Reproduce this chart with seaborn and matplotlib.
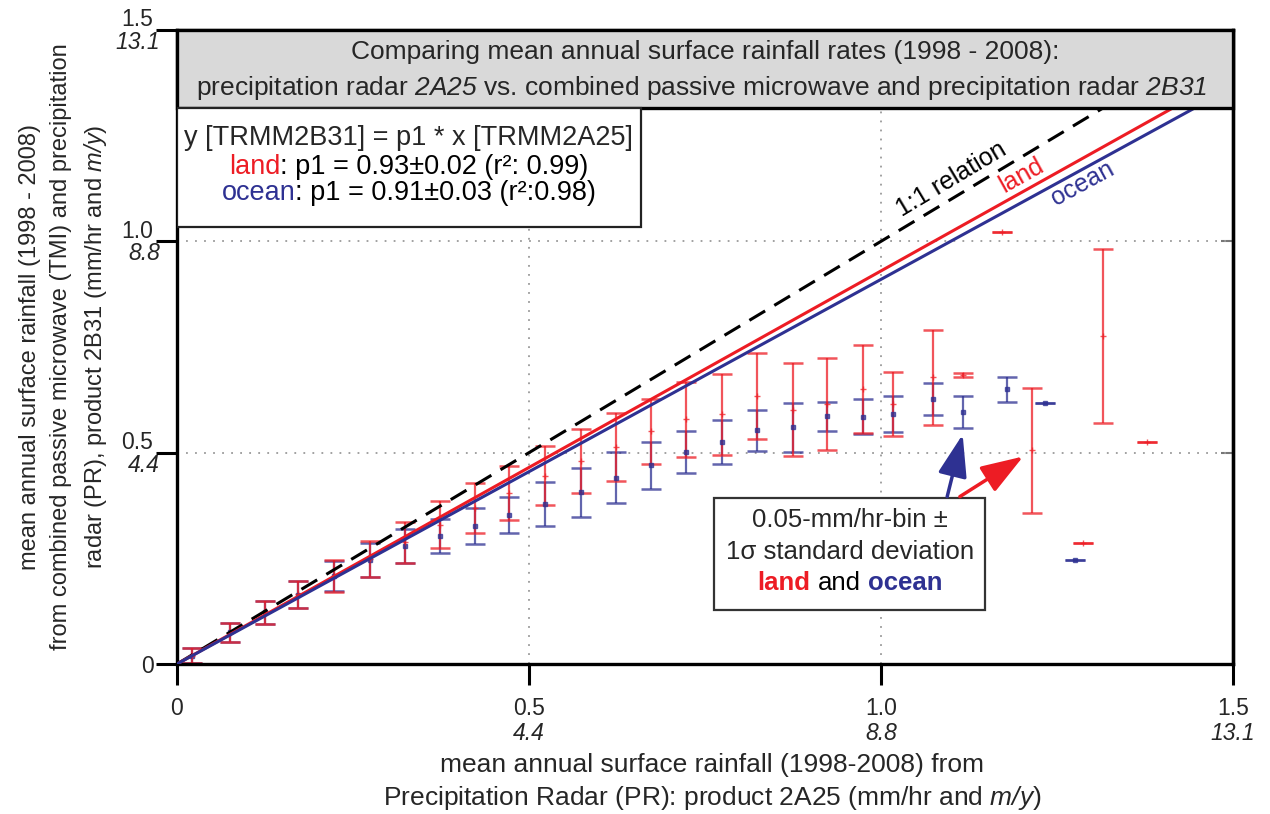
import numpy as np
import pandas as pd
import seaborn as sns
import matplotlib.pyplot as plt
from matplotlib import font_manager
from matplotlib.patches import Rectangle
from matplotlib.transforms import ScaledTranslation

# binned means (0.05 mm/hr bins) and 1-sigma spread
land_x = [0.021, 0.075, 0.125, 0.172, 0.223, 0.274, 0.324, 0.374, 0.423, 0.472,
          0.523, 0.574, 0.624, 0.673, 0.723, 0.774, 0.824, 0.875, 0.923, 0.974,
          1.017, 1.074, 1.116, 1.172, 1.214, 1.287, 1.315, 1.378]
land_mean = [0.020, 0.074, 0.122, 0.165, 0.208, 0.249, 0.288, 0.330, 0.369, 0.405,
             0.445, 0.481, 0.514, 0.551, 0.579, 0.591, 0.634, 0.602, 0.616, 0.651,
             0.615, 0.678, 0.684, 1.021, 0.506, 0.287, 0.777, 0.526]
land_sd = [0.018, 0.022, 0.027, 0.032, 0.037, 0.042, 0.048, 0.055, 0.059, 0.064,
           0.070, 0.076, 0.080, 0.077, 0.089, 0.096, 0.101, 0.109, 0.109, 0.104,
           0.075, 0.113, 0.004, 0.0, 0.148, 0.0, 0.206, 0.0]

ocean_x = [0.021, 0.075, 0.125, 0.172, 0.223, 0.274, 0.324, 0.374, 0.423, 0.472,
           0.523, 0.574, 0.624, 0.673, 0.723, 0.774, 0.824, 0.875, 0.923, 0.974,
           1.017, 1.074, 1.116, 1.179, 1.233, 1.276]
ocean_mean = [0.020, 0.075, 0.122, 0.164, 0.208, 0.247, 0.280, 0.303, 0.327, 0.353,
              0.378, 0.406, 0.441, 0.470, 0.502, 0.525, 0.553, 0.560, 0.586, 0.585,
              0.591, 0.627, 0.597, 0.650, 0.618, 0.246]
ocean_sd = [0.018, 0.022, 0.027, 0.032, 0.036, 0.040, 0.040, 0.040, 0.043, 0.043,
            0.052, 0.058, 0.060, 0.056, 0.050, 0.053, 0.049, 0.058, 0.035, 0.042,
            0.042, 0.039, 0.038, 0.030, 0.0, 0.0]

# regression slopes
slope_land = 0.93
slope_ocean = 0.91

ticks = [0, 0.5, 1.0, 1.5]
tick_labels = ['0', '0.5', '1.0', '1.5']
sub_labels = ['', '4.4', '8.8', '13.1']   # m/y

RED = '#ed1c24'
BLUE = '#2e3192'

sns.set_theme(style='white')
plt.rcParams['font.family'] = ['Liberation Sans', 'DejaVu Sans']

names = {f.name for f in font_manager.fontManager.ttflist}
NARROW = 'Liberation Sans Narrow' if 'Liberation Sans Narrow' in names else 'Liberation Sans'
# \mathsf is used for italic runs inside a label (\mathit keeps digits upright)
plt.rcParams['mathtext.fontset'] = 'custom'
plt.rcParams['mathtext.rm'] = NARROW
plt.rcParams['mathtext.sf'] = NARROW + ':italic'

fig = plt.figure(figsize=(12.7, 8.14), dpi=100)
ax = fig.add_axes([0.13937, 0.18428, 0.83150, 0.77887])


def parts_line(x, y, parts, size, family, gap=0.0):
    # put several differently styled pieces of text on one centred line
    r = fig.canvas.get_renderer()
    texts = [ax.text(0, 0, s, transform=ax.transAxes, fontsize=size, family=family,
                     va='center', ha='left', zorder=8, **kw) for s, kw in parts]
    widths = [t.get_window_extent(r).width for t in texts]
    sp = gap * size * 100 / 72
    total = sum(widths) + sp * (len(texts) - 1)
    px, py = ax.transAxes.transform((x, y))
    cur = px - total / 2
    inv = ax.transAxes.inverted()
    for t, w in zip(texts, widths):
        t.set_position(inv.transform((cur, py)))
        cur += w + sp


# error bars: ocean under land
ax.errorbar(ocean_x, ocean_mean, yerr=ocean_sd, fmt='s', ms=3, color=BLUE, ecolor=BLUE,
            elinewidth=1.6, capsize=7, capthick=1.8, alpha=0.75, zorder=2)
ax.errorbar(land_x, land_mean, yerr=land_sd, fmt='+', ms=4, color=RED, ecolor=RED,
            elinewidth=1.6, capsize=7, capthick=1.8, alpha=0.75, zorder=2)

# fitted lines and 1:1 line
fit_x = np.array([0.0, 1.5])
sns.lineplot(x=fit_x, y=fit_x, ax=ax, color='black', lw=2.2, linestyle=(0, (6, 3.5)), zorder=3)
sns.lineplot(x=fit_x, y=slope_land * fit_x, ax=ax, color=RED, lw=2.2, zorder=3)
sns.lineplot(x=fit_x, y=slope_ocean * fit_x, ax=ax, color=BLUE, lw=2.2, zorder=3)

ax.text(1.100, 1.146, '1:1 relation', rotation=30.9, ha='center', va='center',
        fontsize=18, family=NARROW, color='black', zorder=4)
ax.text(1.200, 1.156, 'land', rotation=29.1, ha='center', va='center',
        fontsize=18, family=NARROW, color=RED, zorder=4)
ax.text(1.287, 1.136, 'ocean', rotation=28.6, ha='center', va='center',
        fontsize=18, family=NARROW, color=BLUE, zorder=4)

ax.set_xlim(0, 1.5)
ax.set_ylim(0, 1.5)
ax.set_xticks(ticks)
ax.set_xticklabels(tick_labels)
ax.set_yticks(ticks)
ax.set_yticklabels(tick_labels)
ax.tick_params(axis='both', direction='out', length=15, width=2.2, labelsize=16.5,
               color='black', bottom=True, left=True)
ax.tick_params(axis='x', pad=9)
ax.tick_params(axis='y', pad=2)
ax.grid(True, linestyle=(0, (1, 4)), color='#9a9a9a', lw=1.3)
for s in ax.spines.values():
    s.set_linewidth(2.4)
    s.set_color('black')

# lift the y tick numbers so the italic m/y value fits under them
for lab, s in zip(ax.get_yticklabels(), sub_labels):
    if s:
        lab.set_transform(lab.get_transform() + ScaledTranslation(0, 9 / 72, fig.dpi_scale_trans))

sec = ax.secondary_yaxis('right')
sec.set_yticks([0.5, 1.0])
sec.set_yticklabels(['', ''])
sec.tick_params(direction='in', length=9, width=1.5, color='#777777')
sec.spines['right'].set_linewidth(2.4)

# italic m/y tick labels
for v, s in zip(ticks, sub_labels):
    if s:
        ax.annotate(s, xy=(v, 0), xycoords=('data', 'axes fraction'), xytext=(0, -50),
                    textcoords='offset points', ha='center', va='center',
                    fontsize=16.5, style='italic', annotation_clip=False)
        ax.annotate(s, xy=(0, v), xycoords=('axes fraction', 'data'), xytext=(-12.3, -9),
                    textcoords='offset points', ha='right', va='center',
                    fontsize=16.5, style='italic', annotation_clip=False)

# title box
ax.add_patch(Rectangle((0, 0.877), 1, 0.123, transform=ax.transAxes, fc='#d9d9d9',
                       ec='black', lw=2.4, zorder=5, clip_on=False))
ax.text(0.5, 0.9653, 'Comparing mean annual surface rainfall rates (1998 - 2008):',
        transform=ax.transAxes, ha='center', va='center', fontsize=19, family=NARROW, zorder=6)
ax.text(0.497, 0.9085, r'precipitation radar $\mathsf{2A25}$ vs. combined passive microwave '
        r'and precipitation radar $\mathsf{2B31}$',
        transform=ax.transAxes, ha='center', va='center', fontsize=19, family=NARROW, zorder=6)

# regression box
ax.add_patch(Rectangle((0, 0.689), 0.439, 0.188, transform=ax.transAxes, fc='white',
                       ec='#222222', lw=1.6, zorder=5))
ax.text(0.2195, 0.830, 'y [TRMM2B31] = p1 * x [TRMM2A25]', transform=ax.transAxes,
        ha='center', va='center', fontsize=19.5, family=NARROW, zorder=6)
parts_line(0.2195, 0.784, [('land', dict(color=RED)),
                           (': p1 = 0.93±0.02 (r²: 0.99)', dict(color='black'))], 19.5, NARROW)
parts_line(0.2195, 0.743, [('ocean', dict(color=BLUE)),
                           (': p1 = 0.91±0.03 (r²:0.98)', dict(color='black'))], 19.5, NARROW)

# bin legend box with arrows
ax.add_patch(Rectangle((0.5085, 0.0852), 0.2565, 0.1766, transform=ax.transAxes,
                       fc='white', ec='#333333', lw=1.6, zorder=6))
ax.text(0.637, 0.227, '0.05-mm/hr-bin ±', transform=ax.transAxes, ha='center',
        va='center', fontsize=18.5, zorder=8)
ax.text(0.637, 0.177, '1σ standard deviation', transform=ax.transAxes, ha='center',
        va='center', fontsize=18.5, zorder=8)
parts_line(0.637, 0.128, [('land', dict(color=RED, weight='bold')),
                          ('and', dict(color='black')),
                          ('ocean', dict(color=BLUE, weight='bold'))], 18.5, 'Liberation Sans',
           gap=0.28)
ax.annotate('', xy=(1.116, 0.543), xytext=(1.094, 0.396),
            arrowprops=dict(arrowstyle='-|>,head_length=1.3,head_width=0.45', mutation_scale=20,
                            lw=2.5, color=BLUE, shrinkA=0, shrinkB=0), zorder=7)
ax.annotate('', xy=(1.202, 0.491), xytext=(1.112, 0.396),
            arrowprops=dict(arrowstyle='-|>,head_length=1.3,head_width=0.45', mutation_scale=20,
                            lw=2.5, color=RED, shrinkA=0, shrinkB=0), zorder=7)

# axis labels
fig.text(0.0504, 0.574, 'mean annual surface rainfall (1998 - 2008)\n'
         'from combined passive microwave (TMI) and precipitation\n'
         r'radar (PR), product 2B31 (mm/hr and $\mathsf{m/y}$)',
         rotation=90, ha='center', va='center', fontsize=17, family=NARROW, linespacing=1.5)
fig.text(0.561, 0.039, 'mean annual surface rainfall (1998-2008) from\n'
         r'Precipitation Radar (PR): product 2A25 (mm/hr and $\mathsf{m/y}$)',
         ha='center', va='center', fontsize=19, family=NARROW, linespacing=1.33)

fig.savefig('out.png', dpi=100)
